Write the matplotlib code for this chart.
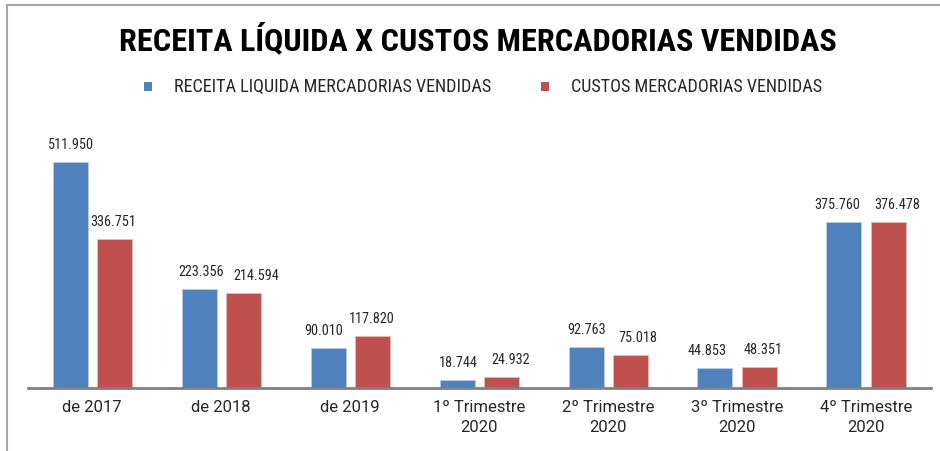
import matplotlib
matplotlib.use("Agg")
import matplotlib.pyplot as plt
from matplotlib.patches import Rectangle
from matplotlib import font_manager
import numpy as np

categories = ["de 2017", "de 2018", "de 2019", "1º Trimestre\n2020", "2º Trimestre\n2020",
              "3º Trimestre\n2020", "4º Trimestre\n2020"]
receita = [511.950, 223.356, 90.010, 18.744, 92.763, 44.853, 375.760]
custos = [336.751, 214.594, 117.820, 24.932, 75.018, 48.351, 376.478]
series_names = ["RECEITA LIQUIDA MERCADORIAS VENDIDAS", "CUSTOS MERCADORIAS VENDIDAS"]
title = "RECEITA LÍQUIDA X CUSTOS MERCADORIAS VENDIDAS"

# horizontal nudges of the data labels (pixels), as in the reference layout
label_dx_receita = [1, 2, -4, 1, 1, -8, -7]
label_dx_custos = [-1, 13, 0, 10, 8, 4, 9]

blue = "#4F81BD"
red = "#C0504D"

names = sorted({f.name for f in font_manager.fontManager.ttflist})
cond = [n for n in names if ("Narrow" in n or "Condensed" in n)]
pref = [n for n in cond if "Liberation" in n] + [n for n in cond if "Roboto" in n] + \
       [n for n in cond if "Open Sans" in n] + [n for n in cond if "DejaVu" in n] + cond
narrow_name = pref[0] if pref else "DejaVu Sans"
narrow = [narrow_name, "DejaVu Sans"]
lab_font = ["Roboto", "DejaVu Sans"]

W, H = 940, 451
fig = plt.figure(figsize=(W / 100, H / 100), dpi=100)
renderer = fig.canvas.get_renderer()

def fit_size(t, target_w):
    bb = t.get_window_extent(renderer=renderer)
    if bb.width > 0:
        t.set_fontsize(t.get_fontsize() * target_w / bb.width)
    return t.get_fontsize()

# frame border (top and left visible)
fig.patches.append(Rectangle((7 / W, -0.1), 1.2, (H - 5) / H + 0.1, transform=fig.transFigure,
                             fill=False, edgecolor="#A6A6A6", linewidth=1.5))

ax_left, ax_right = 27.5, 930.5
ax_top, ax_bot = 150, 388
ax = fig.add_axes([ax_left / W, 1 - ax_bot / H, (ax_right - ax_left) / W, (ax_bot - ax_top) / H])
ymax = (ax_bot - ax_top) / 0.4415
ax.set_ylim(0, ymax)
ax.set_xlim(-0.5, len(categories) - 0.5)

x = np.arange(len(categories))
bw = 35 / 129
off = 22 / 129
b1 = ax.bar(x - off, receita, bw, color=blue, edgecolor="#B8CCE4", linewidth=0.6)
b2 = ax.bar(x + off, custos, bw, color=red, edgecolor="#E6B9B8", linewidth=0.6)

def fmt(v):
    return f"{v:.3f}"

# determine label font size from a reference width
probe = fig.text(0, 0, "511.950", fontsize=9.5, family=narrow)
lab_size = fit_size(probe, 46)
probe.remove()

px = 72 / 100  # points per pixel
for bars, vals, dxs in ((b1, receita, label_dx_receita), (b2, custos, label_dx_custos)):
    for r, v, dx in zip(bars, vals, dxs):
        ax.annotate(fmt(v), (r.get_x() + r.get_width() / 2, r.get_height()),
                    xytext=(dx * px, 10 * px), textcoords="offset points", ha="center",
                    va="bottom", fontsize=lab_size, family=narrow, color="#262626")

for s in ["top", "right", "left"]:
    ax.spines[s].set_visible(False)
ax.spines["bottom"].set_color("#808080")
ax.spines["bottom"].set_linewidth(2)
ax.set_yticks([])
ax.set_xticks(x)
ax.set_xticklabels(categories, fontsize=12, family=lab_font, color="#262626", linespacing=1.35)
ax.tick_params(axis="x", length=0, pad=9)

tt = fig.text(478 / W, 1 - 40 / H, title, ha="center", va="center", fontsize=25,
              fontweight="bold", family=narrow, color="black")
fit_size(tt, 716)

# legend
for xm, name, col, wtarget in ((144, series_names[0], blue, 319), (541, series_names[1], red, 251)):
    fig.patches.append(Rectangle((xm / W, 1 - 91 / H), 8 / W, 9 / H, transform=fig.transFigure,
                                 facecolor=col, edgecolor="none"))
    lt = fig.text((xm + 30) / W, 1 - 87 / H, name, ha="left", va="center", fontsize=11.5,
                  family=narrow, color="#262626")
    fit_size(lt, wtarget)

fig.savefig("out.png", dpi=100)
